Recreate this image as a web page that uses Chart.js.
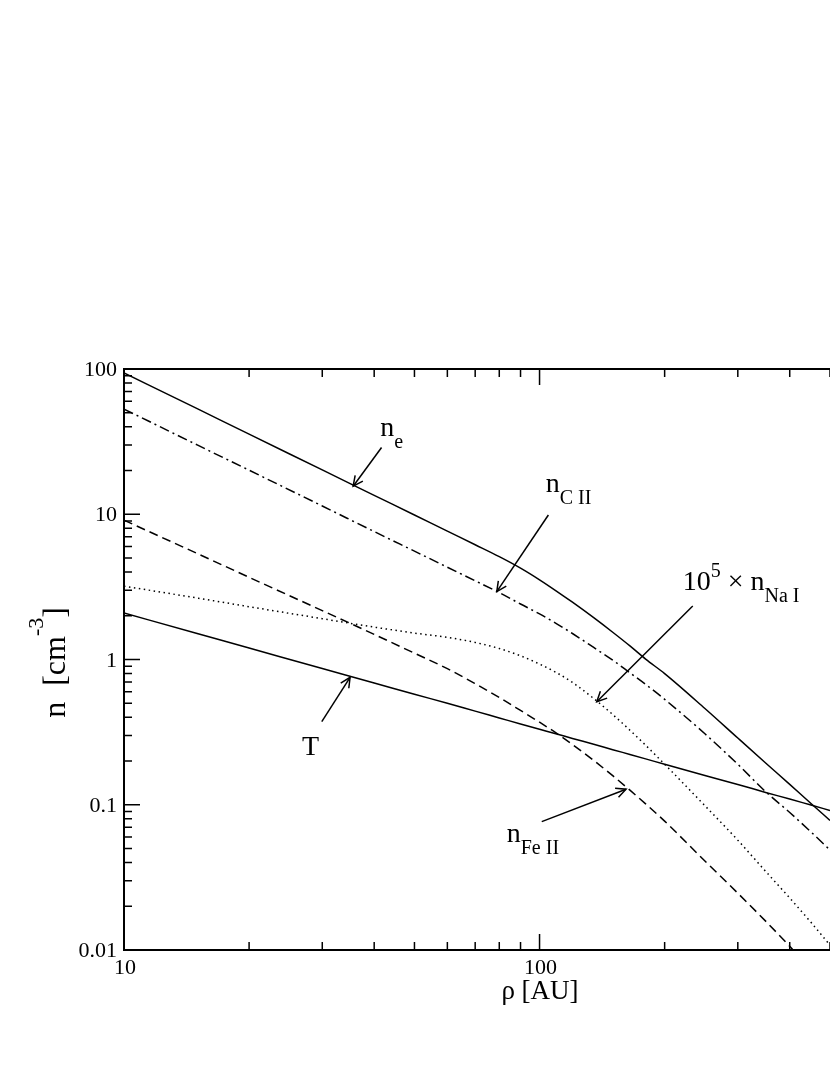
<!DOCTYPE html>
<html><head><meta charset="utf-8">
<script src="https://cdn.jsdelivr.net/npm/chart.js@4.4.1/dist/chart.umd.min.js"></script>
<style>html,body{margin:0;padding:0;background:#fff;overflow:hidden}#wrap{width:830px;height:1075px}</style>
</head><body><div id="wrap"><canvas id="c" width="830" height="1075"></canvas></div>
<script>
// ---- data ----
const rho = [10,15,20,30,40,50,60,70,80,90,100,110,120,135,150,165,180,200,250,300,350,400,450,500];
const nE   = [94,53.3,35.6,20.2,13.5,9.88,7.65,6.17,5.11,4.26,3.54,2.95,2.48,1.94,1.54,1.24,1.006,0.80,0.46,0.288,0.194,0.138,0.102,0.078];
const nCII = [53,30,20.1,11.4,7.6,5.57,4.32,3.48,2.89,2.41,2.06,1.76,1.51,1.21,0.99,0.81,0.674,0.532,0.308,0.19,0.123,0.0884,0.065,0.0488];
const nFeII= [9.1,5.37,3.68,2.17,1.49,1.105,0.865,0.682,0.548,0.446,0.37,0.31,0.26,0.202,0.1585,0.126,0.1014,0.0771,0.041,0.0246,0.0158,0.0106,0.0073,0.0053];
const nNaI = [3.2,2.65,2.31,1.91,1.67,1.52,1.42,1.31,1.19,1.06,0.93,0.81,0.695,0.539,0.418,0.326,0.257,0.19,0.0985,0.057,0.0348,0.0228,0.0155,0.0108];
const temp = [2.09,1.51,1.20,0.867,0.690,0.576,0.500,0.441,0.396,0.360,0.331,0.307,0.286,0.261,0.2395,0.222,0.207,0.190,0.159,0.138,0.1216,0.1095,0.0995,0.0914];
const yMajor = [0.01,0.1,1,10,100];
const yLabels = ['0.01','0.1','1','10','100'];
const xMajor = [10,100];
const xLabels = ['10','100'];
const xTitle = 'ρ [AU]';

const pts = arr => rho.map((r,i)=>({x:r,y:arr[i]}));
const FONT = "'Liberation Serif', 'Times New Roman', serif";

function arrow(ctx,x1,y1,x2,y2){
  ctx.beginPath(); ctx.moveTo(x1,y1); ctx.lineTo(x2,y2); ctx.stroke();
  const a=Math.atan2(y2-y1,x2-x1), L=11, w=0.45;
  ctx.beginPath();
  ctx.moveTo(x2-L*Math.cos(a-w), y2-L*Math.sin(a-w));
  ctx.lineTo(x2,y2);
  ctx.lineTo(x2-L*Math.cos(a+w), y2-L*Math.sin(a+w));
  ctx.stroke();
}
function rich(ctx,x,y,parts){
  let cx=x;
  for(const p of parts){
    ctx.font = p.s+'px '+FONT;
    ctx.fillText(p.t, cx, y+(p.dy||0));
    cx += ctx.measureText(p.t).width;
  }
  return cx-x;
}
function richWidth(ctx,parts){
  let w=0; for(const p of parts){ctx.font=p.s+'px '+FONT; w+=ctx.measureText(p.t).width;} return w;
}

const annotations = [
  {tip:[35.6,15.6], tail:[28.4,-38.7], lab:[27,-50], parts:[{t:'n',s:28},{t:'e',s:20,dy:12}]},
  {tip:[78.9,2.93], tail:[51.6,-76.7], lab:[49,-100], parts:[{t:'n',s:28},{t:'C II',s:20,dy:12}]},
  {tip:[137.3,0.512], tail:[96,-95.7], lab:[86,-111.7], parts:[{t:'10',s:28},{t:'5',s:20,dy:-13},{t:' × ',s:28},{t:'n',s:28},{t:'Na I',s:20,dy:12}]},
  {tip:[35.0,0.754], tail:[-28.3,44.4], lab:[-48,77.7], parts:[{t:'T',s:28}]},
  {tip:[161.5,0.128], tail:[-84.3,32.4], lab:[-119.3,52.4], parts:[{t:'n',s:28},{t:'Fe II',s:20,dy:12}]}
];

const framePlugin = {
  id:'frame',
  afterDatasetsDraw(chart){
    const {ctx, chartArea:a, scales:{x,y}} = chart;
    ctx.save();
    ctx.strokeStyle='#000'; ctx.fillStyle='#000';
    ctx.lineWidth=2;
    ctx.beginPath();
    ctx.moveTo(a.right+5,a.top); ctx.lineTo(a.left,a.top); ctx.lineTo(a.left,a.bottom); ctx.lineTo(a.right+5,a.bottom);
    ctx.stroke();
    ctx.lineWidth=1.5;
    ctx.beginPath();
    for(const d of yMajor){
      const py=y.getPixelForValue(d);
      ctx.moveTo(a.left,py); ctx.lineTo(a.left+16,py);
      if(d<100){ for(let k=2;k<=9;k++){ const q=y.getPixelForValue(d*k); ctx.moveTo(a.left,q); ctx.lineTo(a.left+8,q);} }
    }
    for(const d of [10,100]){
      const px=x.getPixelForValue(d);
      ctx.moveTo(px,a.bottom); ctx.lineTo(px,a.bottom-16);
      ctx.moveTo(px,a.top); ctx.lineTo(px,a.top+16);
      for(let k=2;k<=9;k++){
        const v=d*k; if(v>x.max) break;
        const q=x.getPixelForValue(v);
        ctx.moveTo(q,a.bottom); ctx.lineTo(q,a.bottom-8);
        ctx.moveTo(q,a.top); ctx.lineTo(q,a.top+8);
      }
    }
    ctx.stroke();
    ctx.font='22px '+FONT; ctx.textAlign='right'; ctx.textBaseline='alphabetic';
    yMajor.forEach((d,i)=>ctx.fillText(yLabels[i], a.left-7, y.getPixelForValue(d)+7));
    ctx.textAlign='center';
    xMajor.forEach((d,i)=>ctx.fillText(xLabels[i], x.getPixelForValue(d)+1, a.bottom+24));
    ctx.font='27px '+FONT;
    ctx.fillText(xTitle, 540, a.bottom+49);
    ctx.save();
    ctx.translate(65,(a.top+a.bottom)/2+3);
    ctx.rotate(-Math.PI/2);
    ctx.textAlign='left';
    const yt=[{t:'n',s:32},{t:'  [cm',s:32},{t:'-3',s:22,dy:-22},{t:']',s:32}];
    const w=richWidth(ctx,yt);
    rich(ctx,-w/2,0,yt);
    ctx.restore();
    ctx.textAlign='left'; ctx.lineWidth=1.5;
    for(const an of annotations){
      const tx=x.getPixelForValue(an.tip[0]), ty=y.getPixelForValue(an.tip[1]);
      arrow(ctx, tx+an.tail[0], ty+an.tail[1], tx, ty);
      rich(ctx, tx+an.lab[0], ty+an.lab[1], an.parts);
    }
    ctx.restore();
  }
};

const common = {borderColor:'#000', borderWidth:1.5, pointRadius:0, fill:false, cubicInterpolationMode:'monotone'};
new Chart(document.getElementById('c'), {
  type:'line',
  data:{datasets:[
    Object.assign({label:'n_e', data:pts(nE)}, common),
    Object.assign({label:'n_C II', data:pts(nCII), borderDash:[10,4,2,4]}, common),
    Object.assign({label:'n_Fe II', data:pts(nFeII), borderDash:[9,5]}, common),
    Object.assign({label:'1e5 n_Na I', data:pts(nNaI), borderDash:[1.5,3.5]}, common),
    Object.assign({label:'T', data:pts(temp)}, common)
  ]},
  options:{
    responsive:false, animation:false, devicePixelRatio:1,
    layout:{padding:{left:124,top:369,right:0,bottom:125}},
    plugins:{legend:{display:false}, tooltip:{enabled:false}},
    scales:{
      x:{type:'logarithmic', min:10, max:500, display:false},
      y:{type:'logarithmic', min:0.01, max:100, display:false}
    }
  },
  plugins:[framePlugin]
});
</script></body></html>
